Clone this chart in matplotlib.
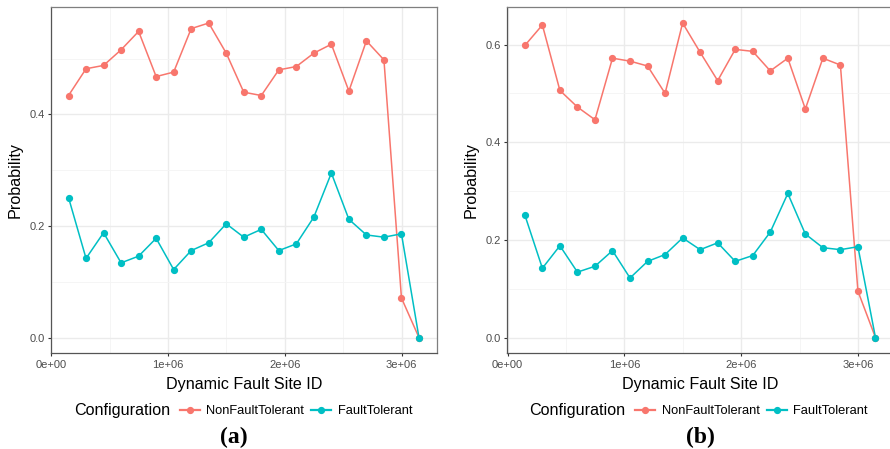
import matplotlib
matplotlib.use("Agg")
import matplotlib.pyplot as plt
from matplotlib.lines import Line2D

# Dynamic fault site IDs (sampled every 150k sites)
site_ids = [148000 + 150000 * i for i in range(21)]

# (a) probabilities per configuration
nft_a = [0.434, 0.482, 0.488, 0.516, 0.549, 0.468, 0.476, 0.554, 0.564, 0.510,
         0.440, 0.434, 0.480, 0.486, 0.510, 0.526, 0.442, 0.532, 0.498, 0.071, 0.0]
ft_a = [0.251, 0.142, 0.188, 0.134, 0.146, 0.178, 0.122, 0.156, 0.170, 0.204,
        0.180, 0.194, 0.156, 0.168, 0.216, 0.295, 0.212, 0.184, 0.180, 0.186, 0.0]

# (b) probabilities per configuration
nft_b = [0.598, 0.640, 0.506, 0.472, 0.446, 0.572, 0.566, 0.556, 0.500, 0.644,
         0.584, 0.526, 0.590, 0.586, 0.546, 0.572, 0.468, 0.572, 0.558, 0.095, 0.0]
ft_b = [0.251, 0.142, 0.188, 0.134, 0.146, 0.178, 0.122, 0.156, 0.170, 0.204,
        0.180, 0.194, 0.156, 0.168, 0.216, 0.295, 0.212, 0.184, 0.180, 0.186, 0.0]

config_labels = ["NonFaultTolerant", "FaultTolerant"]
x_ticks = [0, 1000000, 2000000, 3000000]
x_tick_labels = ["0e+00", "1e+06", "2e+06", "3e+06"]
x_minor = [500000, 1500000, 2500000]
y_ticks_a = [0.0, 0.2, 0.4]
y_ticks_b = [0.0, 0.2, 0.4, 0.6]
y_minor = [0.1, 0.3, 0.5]
panel_captions = ["(a)", "(b)"]

RED = "#F8766D"
CYAN = "#00BFC4"
SANS = "Liberation Sans"

W, H = 890, 449
fig = plt.figure(figsize=(W / 100, H / 100), dpi=100)
fig.patch.set_facecolor("white")


def fx(px):
    return px / W


def fy(py):
    return 1 - py / H


def expand(vals):
    lo, hi = min(vals), max(vals)
    pad = 0.05 * (hi - lo)
    return lo - pad, hi + pad


def panel(left_px, right_px, nft, ft, yticks, caption, caption_x,
          legend_left_px):
    top_px, bot_px = 7.3, 353.3
    ax = fig.add_axes([fx(left_px), fy(bot_px), fx(right_px - left_px),
                       (bot_px - top_px) / H])
    ax.set_facecolor("white")
    ax.plot(site_ids, nft, color=RED, lw=1.1, marker="o", ms=4.2,
            label=config_labels[0], zorder=3)
    ax.plot(site_ids, ft, color=CYAN, lw=1.1, marker="o", ms=4.2,
            label=config_labels[1], zorder=3)
    ax.set_xlim(*expand(site_ids))
    ax.set_ylim(*expand(nft + ft))
    ax.set_xticks(x_ticks)
    ax.set_xticklabels(x_tick_labels)
    ax.set_xticks(x_minor, minor=True)
    ax.set_yticks(yticks)
    ax.set_yticklabels([f"{v:.1f}" for v in yticks])
    ax.set_yticks(y_minor, minor=True)
    ax.grid(which="major", color="#EBEBEB", lw=1.0, zorder=0)
    ax.grid(which="minor", color="#F4F4F4", lw=0.6, zorder=0)
    ax.set_axisbelow(True)
    ax.tick_params(which="major", length=2.5, width=0.8, color="#333333",
                   labelsize=8.0, labelcolor="#4D4D4D", pad=2)
    ax.tick_params(which="minor", length=0)
    for side, sp in ax.spines.items():
        sp.set_color("#7F7F7F" if side in ("top", "right") else "#555555")
        sp.set_linewidth(0.9)
    for lab in ax.get_xticklabels() + ax.get_yticklabels():
        lab.set_fontfamily(SANS)
    ax.set_xlabel("Dynamic Fault Site ID", fontsize=11.6, family=SANS,
                  labelpad=5.5)
    ax.set_ylabel("Probability", fontsize=11.6, family=SANS, labelpad=5)

    # legend row: title followed by the two series keys
    fig.text(fx(legend_left_px), fy(411), "Configuration", fontsize=11.6,
             family=SANS, va="center", ha="left")
    handles = [Line2D([], [], color=RED, lw=1.6, marker="o", ms=4.2),
               Line2D([], [], color=CYAN, lw=1.6, marker="o", ms=4.2)]
    fig.legend(handles, config_labels, loc="center left",
               bbox_to_anchor=(fx(legend_left_px + 106), fy(411)),
               ncol=2, frameon=False, handlelength=1.55, handletextpad=0.5,
               columnspacing=0.55, borderpad=0, borderaxespad=0,
               prop={"family": SANS, "size": 9.3})
    fig.text(fx(caption_x), fy(437), caption, fontsize=17,
             family="Liberation Serif", fontweight="bold",
             ha="center", va="center")
    return ax


panel(51.0, 436.5, nft_a, ft_a, y_ticks_a, panel_captions[0], 233.7, 74)
panel(507.3, 893.0, nft_b, ft_b, y_ticks_b, panel_captions[1], 700.0, 529.3)

fig.savefig("out.png", dpi=100)
